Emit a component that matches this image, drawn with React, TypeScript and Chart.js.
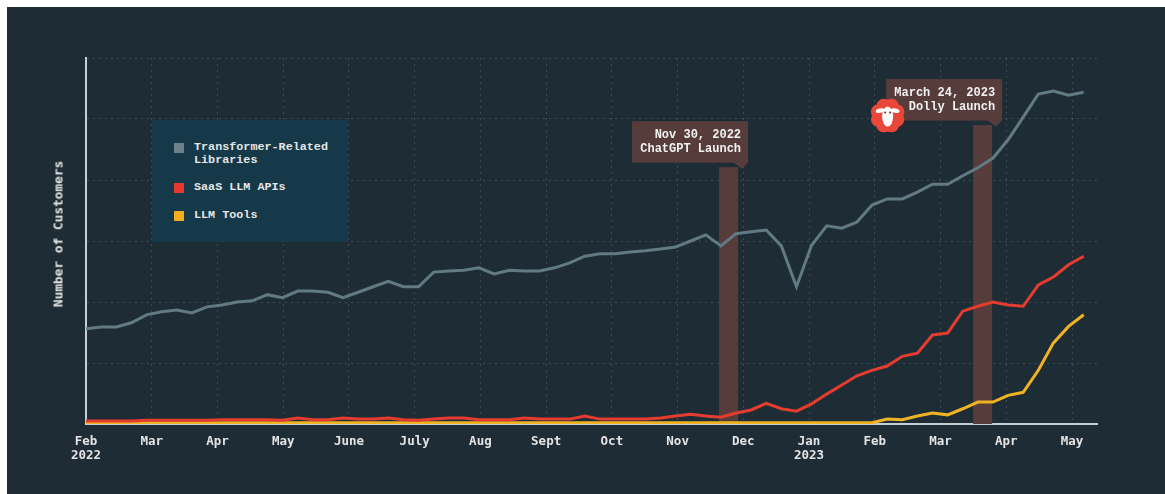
import React, { useEffect, useRef } from 'react';
import { Chart, registerables } from 'chart.js';

Chart.register(...registerables);

// Month tick labels (x axis in months since Feb 2022)
const monthLabels = [
  ['Feb', '2022'], 'Mar', 'Apr', 'May', 'June', 'July', 'Aug', 'Sept',
  'Oct', 'Nov', 'Dec', ['Jan', '2023'], 'Feb', 'Mar', 'Apr', 'May',
];
const monthTicks = [0, 1, 2, 3, 4, 5, 6, 7, 8, 9, 10, 11, 12, 13, 14, 15];
const xMax = 15.38;
const DAYS_PER_MONTH = 30.44;

// Weekly customer counts (week 0 = first week of Feb 2022)
const transformerLibs = [
  156, 159, 159, 166, 179, 184, 187, 182, 192, 195,
  200, 202, 212, 207, 218, 218, 216, 207, 216, 225,
  234, 225, 225, 249, 251, 252, 256, 246, 252, 251,
  251, 256, 264, 275, 279, 279, 282, 284, 287, 290,
  300, 310, 292, 312, 315, 318, 292, 225, 293, 325,
  321, 331, 359, 369, 369, 380, 393, 393, 407, 420,
  436, 466, 503, 541, 546, 539, 544,
];
const saasLLMAPIs = [
  5, 5, 5, 5, 6, 6, 6, 6, 6, 7,
  7, 7, 7, 6, 10, 7, 7, 10, 8, 8,
  10, 7, 6, 8, 10, 10, 7, 7, 7, 10,
  8, 8, 8, 13, 8, 8, 8, 8, 10, 13,
  16, 13, 11, 18, 23, 34, 25, 21, 33, 49,
  64, 79, 88, 95, 111, 116, 146, 149, 185, 193,
  200, 195, 193, 228, 241, 261, 275,
];
const llmTools = [
  2, 2, 2, 2, 2, 2, 2, 2, 2, 2,
  2, 2, 2, 2, 2, 2, 2, 2, 2, 2,
  2, 2, 2, 2, 2, 2, 2, 2, 2, 2,
  2, 2, 2, 2, 2, 2, 2, 2, 2, 2,
  2, 2, 2, 2, 2, 2, 2, 2, 2, 2,
  2, 2, 2, 8, 7, 13, 18, 15, 25, 36,
  36, 47, 52, 88, 133, 160, 179,
];

// Launch events
const eventPositions = [9.775, 13.64];
const eventBarTops = [421, 490];
const eventDates = ['Nov 30, 2022', 'March 24, 2023'];
const eventNames = ['ChatGPT Launch', 'Dolly Launch'];

const seriesNames = ['Transformer-Related Libraries', 'SaaS LLM APIs', 'LLM Tools'];
const seriesColors = ['#627a82', '#e63b2f', '#f0b323'];
const legendSwatches = ['#6c818a', '#e8372e', '#f2ae1c'];

const BG = '#1e2d35';
const BAR = '#573c3c';

const toPoints = (vals: number[]) =>
  vals.map((v, i) => ({ x: (i * 7) / DAYS_PER_MONTH, y: v }));

function drawSheep(ctx: CanvasRenderingContext2D, cx: number, cy: number) {
  ctx.save();
  ctx.fillStyle = '#e9473a';
  for (let k = 0; k < 8; k++) {
    const a = (k * Math.PI) / 4 + Math.PI / 8;
    ctx.beginPath();
    ctx.arc(cx + Math.cos(a) * 10, cy + Math.sin(a) * 10, 7.5, 0, Math.PI * 2);
    ctx.fill();
  }
  ctx.beginPath();
  ctx.arc(cx, cy, 12, 0, Math.PI * 2);
  ctx.fill();
  ctx.fillStyle = '#ffffff';
  ctx.beginPath();
  ctx.ellipse(cx - 7.5, cy - 5, 4.5, 2.2, -0.2, 0, Math.PI * 2);
  ctx.fill();
  ctx.beginPath();
  ctx.ellipse(cx + 7.5, cy - 5, 4.5, 2.2, 0.2, 0, Math.PI * 2);
  ctx.fill();
  ctx.beginPath();
  ctx.ellipse(cx, cy + 1, 5.5, 10, 0, 0, Math.PI * 2);
  ctx.fill();
  ctx.fillStyle = '#5a2a26';
  ctx.beginPath();
  ctx.arc(cx - 2.5, cy - 3, 1, 0, Math.PI * 2);
  ctx.arc(cx + 2.5, cy - 3, 1, 0, Math.PI * 2);
  ctx.fill();
  ctx.restore();
}

const eventsPlugin = {
  id: 'launchEvents',
  beforeDatasetsDraw(chart: any) {
    const { ctx, chartArea, scales } = chart;
    ctx.save();
    ctx.fillStyle = BAR;
    eventPositions.forEach((pos, i) => {
      const xp = scales.x.getPixelForValue(pos);
      const top = scales.y.getPixelForValue(eventBarTops[i]);
      ctx.fillRect(xp - 9.5, top, 19, chartArea.bottom - top);
    });
    ctx.restore();
  },
  afterDatasetsDraw(chart: any) {
    const { ctx, scales } = chart;
    ctx.save();
    eventPositions.forEach((pos, i) => {
      const xp = scales.x.getPixelForValue(pos);
      const top = scales.y.getPixelForValue(eventBarTops[i]);
      const bR = xp + 9.5 + 10;
      const bL = bR - 116;
      const bB = top - 4.5;
      const bT = bB - 41.5;
      ctx.fillStyle = BAR;
      ctx.fillRect(bL, bT, bR - bL, bB - bT);
      ctx.beginPath();
      ctx.moveTo(bR - 15, bB - 0.5);
      ctx.lineTo(bR, bB - 0.5);
      ctx.lineTo(bR - 6, bB + 6);
      ctx.closePath();
      ctx.fill();
      ctx.fillStyle = '#f2f2f2';
      ctx.font = 'bold 12px "Liberation Mono", "DejaVu Sans Mono", monospace';
      ctx.textAlign = 'right';
      ctx.textBaseline = 'middle';
      ctx.fillText(eventDates[i], bR - 7, bT + 13.5);
      ctx.fillText(eventNames[i], bR - 7, bT + 27.5);
      if (i === 1) drawSheep(ctx, bL + 1.5, bB - 5);
    });
    ctx.restore();
  },
};

export default function App() {
  const canvasRef = useRef<HTMLCanvasElement | null>(null);

  useEffect(() => {
    if (!canvasRef.current) return;
    const gridColor = 'rgba(255,255,255,0.14)';
    const axisColor = '#c5ced3';
    const chart = new Chart(canvasRef.current, {
      type: 'line',
      data: {
        datasets: [
          {
            label: seriesNames[0],
            data: toPoints(transformerLibs),
            borderColor: seriesColors[0],
            borderWidth: 3,
            pointRadius: 0,
            tension: 0,
          },
          {
            label: seriesNames[1],
            data: toPoints(saasLLMAPIs),
            borderColor: seriesColors[1],
            borderWidth: 3,
            pointRadius: 0,
            tension: 0,
          },
          {
            label: seriesNames[2],
            data: toPoints(llmTools),
            borderColor: seriesColors[2],
            borderWidth: 3,
            pointRadius: 0,
            tension: 0,
          },
        ],
      },
      options: {
        animation: false,
        responsive: false,
        maintainAspectRatio: false,
        layout: { padding: { top: 51, right: 68, left: 0, bottom: 0 } },
        plugins: {
          legend: { display: false },
          tooltip: { enabled: false },
        },
        scales: {
          x: {
            type: 'linear',
            min: 0,
            max: xMax,
            afterFit: (s: any) => {
              s.height = 70;
            },
            afterBuildTicks: (s: any) => {
              s.ticks = monthTicks.map((v) => ({ value: v }));
            },
            ticks: {
              autoSkip: false,
              maxRotation: 0,
              padding: 11,
              color: '#e4e4e4',
              font: { family: '"DejaVu Sans Mono", monospace', size: 12.5, weight: 'bold', lineHeight: 1.12 },
              callback: (v: any) => monthLabels[Math.round(Number(v))] as any,
            },
            grid: { color: gridColor, lineWidth: 1, drawTicks: false },
            border: { display: true, color: axisColor, width: 2, dash: [2, 4] },
          },
          y: {
            min: 0,
            max: 600,
            afterFit: (s: any) => {
              s.width = 79;
            },
            ticks: { display: false, stepSize: 100 },
            grid: { color: gridColor, lineWidth: 1, drawTicks: false },
            border: { display: true, color: axisColor, width: 2, dash: [2, 4] },
          },
        },
      },
      plugins: [eventsPlugin],
    } as any);
    return () => chart.destroy();
  }, []);

  const legendFont: React.CSSProperties = {
    position: 'absolute',
    fontFamily: '"Liberation Mono", "DejaVu Sans Mono", monospace',
    fontWeight: 'bold',
    fontSize: '11.75px',
    lineHeight: '13px',
    color: '#e6e6e6',
    whiteSpace: 'nowrap',
  };
  const itemTops = [20.5, 60.5, 88.5];

  return (
    <div
      style={{
        position: 'fixed',
        left: 7,
        top: 7,
        width: 1158,
        height: 487,
        background: BG,
        overflow: 'hidden',
      }}
    >
      <canvas ref={canvasRef} width={1158} height={487} style={{ position: 'absolute', left: 0, top: 0 }} />
      <div
        style={{
          position: 'absolute',
          left: 51,
          top: 226.5,
          transform: 'translate(-50%, -50%) rotate(-90deg)',
          fontFamily: '"DejaVu Sans Mono", monospace',
          fontWeight: 'bold',
          fontSize: '12.8px',
          color: '#e4e4e4',
          whiteSpace: 'nowrap',
        }}
      >
        Number of Customers
      </div>
      <div
        style={{
          position: 'absolute',
          left: 145,
          top: 113,
          width: 196,
          height: 122,
          background: '#153949',
        }}
      >
        {seriesNames.map((name, i) => (
          <React.Fragment key={name}>
            <div
              style={{
                position: 'absolute',
                left: 22,
                top: itemTops[i] + 2,
                width: 10,
                height: 10,
                background: legendSwatches[i],
              }}
            />
            <div style={{ ...legendFont, left: 42, top: itemTops[i] }}>
              {i === 0 ? (
                <>
                  Transformer-Related
                  <br />
                  Libraries
                </>
              ) : (
                name
              )}
            </div>
          </React.Fragment>
        ))}
      </div>
    </div>
  );
}
